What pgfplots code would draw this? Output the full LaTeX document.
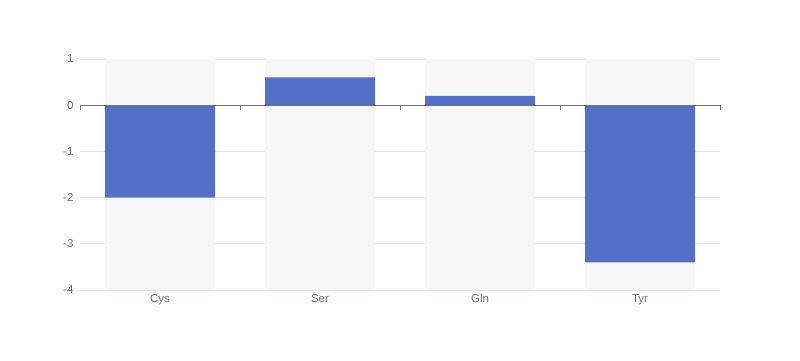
\documentclass[border=0pt]{standalone}
\usepackage{pgfplots}
\pgfplotsset{compat=1.18}
\usepackage{fontspec}
\setmainfont{Liberation Sans}
\definecolor{barblue}{RGB}{84,112,198}
\definecolor{bggray}{RGB}{247,247,247}
\definecolor{gridc}{RGB}{224,230,241}
\definecolor{axisc}{RGB}{110,112,121}
\begin{document}
\begin{tikzpicture}[x=1pt,y=1pt]
\path[use as bounding box] (0,0) rectangle (800,360);
\begin{axis}[
  at={(80pt,70pt)}, anchor=south west,
  scale only axis, width=640pt, height=231pt,
  xmin=-0.5, xmax=3.5, ymin=-4, ymax=1,
  axis line style={draw=none},
  xtick={0,1,2,3}, xticklabels={Cys,Ser,Gln,Tyr},
  ytick={-4,-3,-2,-1,0,1},
  major tick length=0pt,
  ymajorgrids, grid style={gridc, line width=0.8pt},
  tick label style={font=\fontsize{11.5}{14}\selectfont, text=axisc},
  /pgf/number format/assume math mode=true,
  yticklabel style={xshift=-3pt},
  xticklabel style={yshift=-1pt, text height=1.6ex, text depth=0.3ex},
  bar width=0.6875,
  clip=false,
]
\addplot[ybar, bar shift=0, fill=bggray, draw=none] coordinates {(0,1) (1,1) (2,1) (3,1)};
\addplot[ybar, bar shift=0, fill=bggray, draw=none] coordinates {(0,-4) (1,-4) (2,-4) (3,-4)};
\addplot[ybar, bar shift=0, fill=barblue, draw=none] coordinates {(0,-2) (1,0.6) (2,0.2) (3,-3.4)};
\draw[axisc, line width=0.8pt] (axis cs:-0.5,0) -- (axis cs:3.5,0);
\draw[axisc, line width=0.8pt] (axis cs:-0.5,0) -- ([yshift=-5pt]axis cs:-0.5,0);
\draw[axisc, line width=0.8pt] (axis cs:0.5,0) -- ([yshift=-5pt]axis cs:0.5,0);
\draw[axisc, line width=0.8pt] (axis cs:1.5,0) -- ([yshift=-5pt]axis cs:1.5,0);
\draw[axisc, line width=0.8pt] (axis cs:2.5,0) -- ([yshift=-5pt]axis cs:2.5,0);
\draw[axisc, line width=0.8pt] (axis cs:3.5,0) -- ([yshift=-5pt]axis cs:3.5,0);
\end{axis}
\end{tikzpicture}
\end{document}
